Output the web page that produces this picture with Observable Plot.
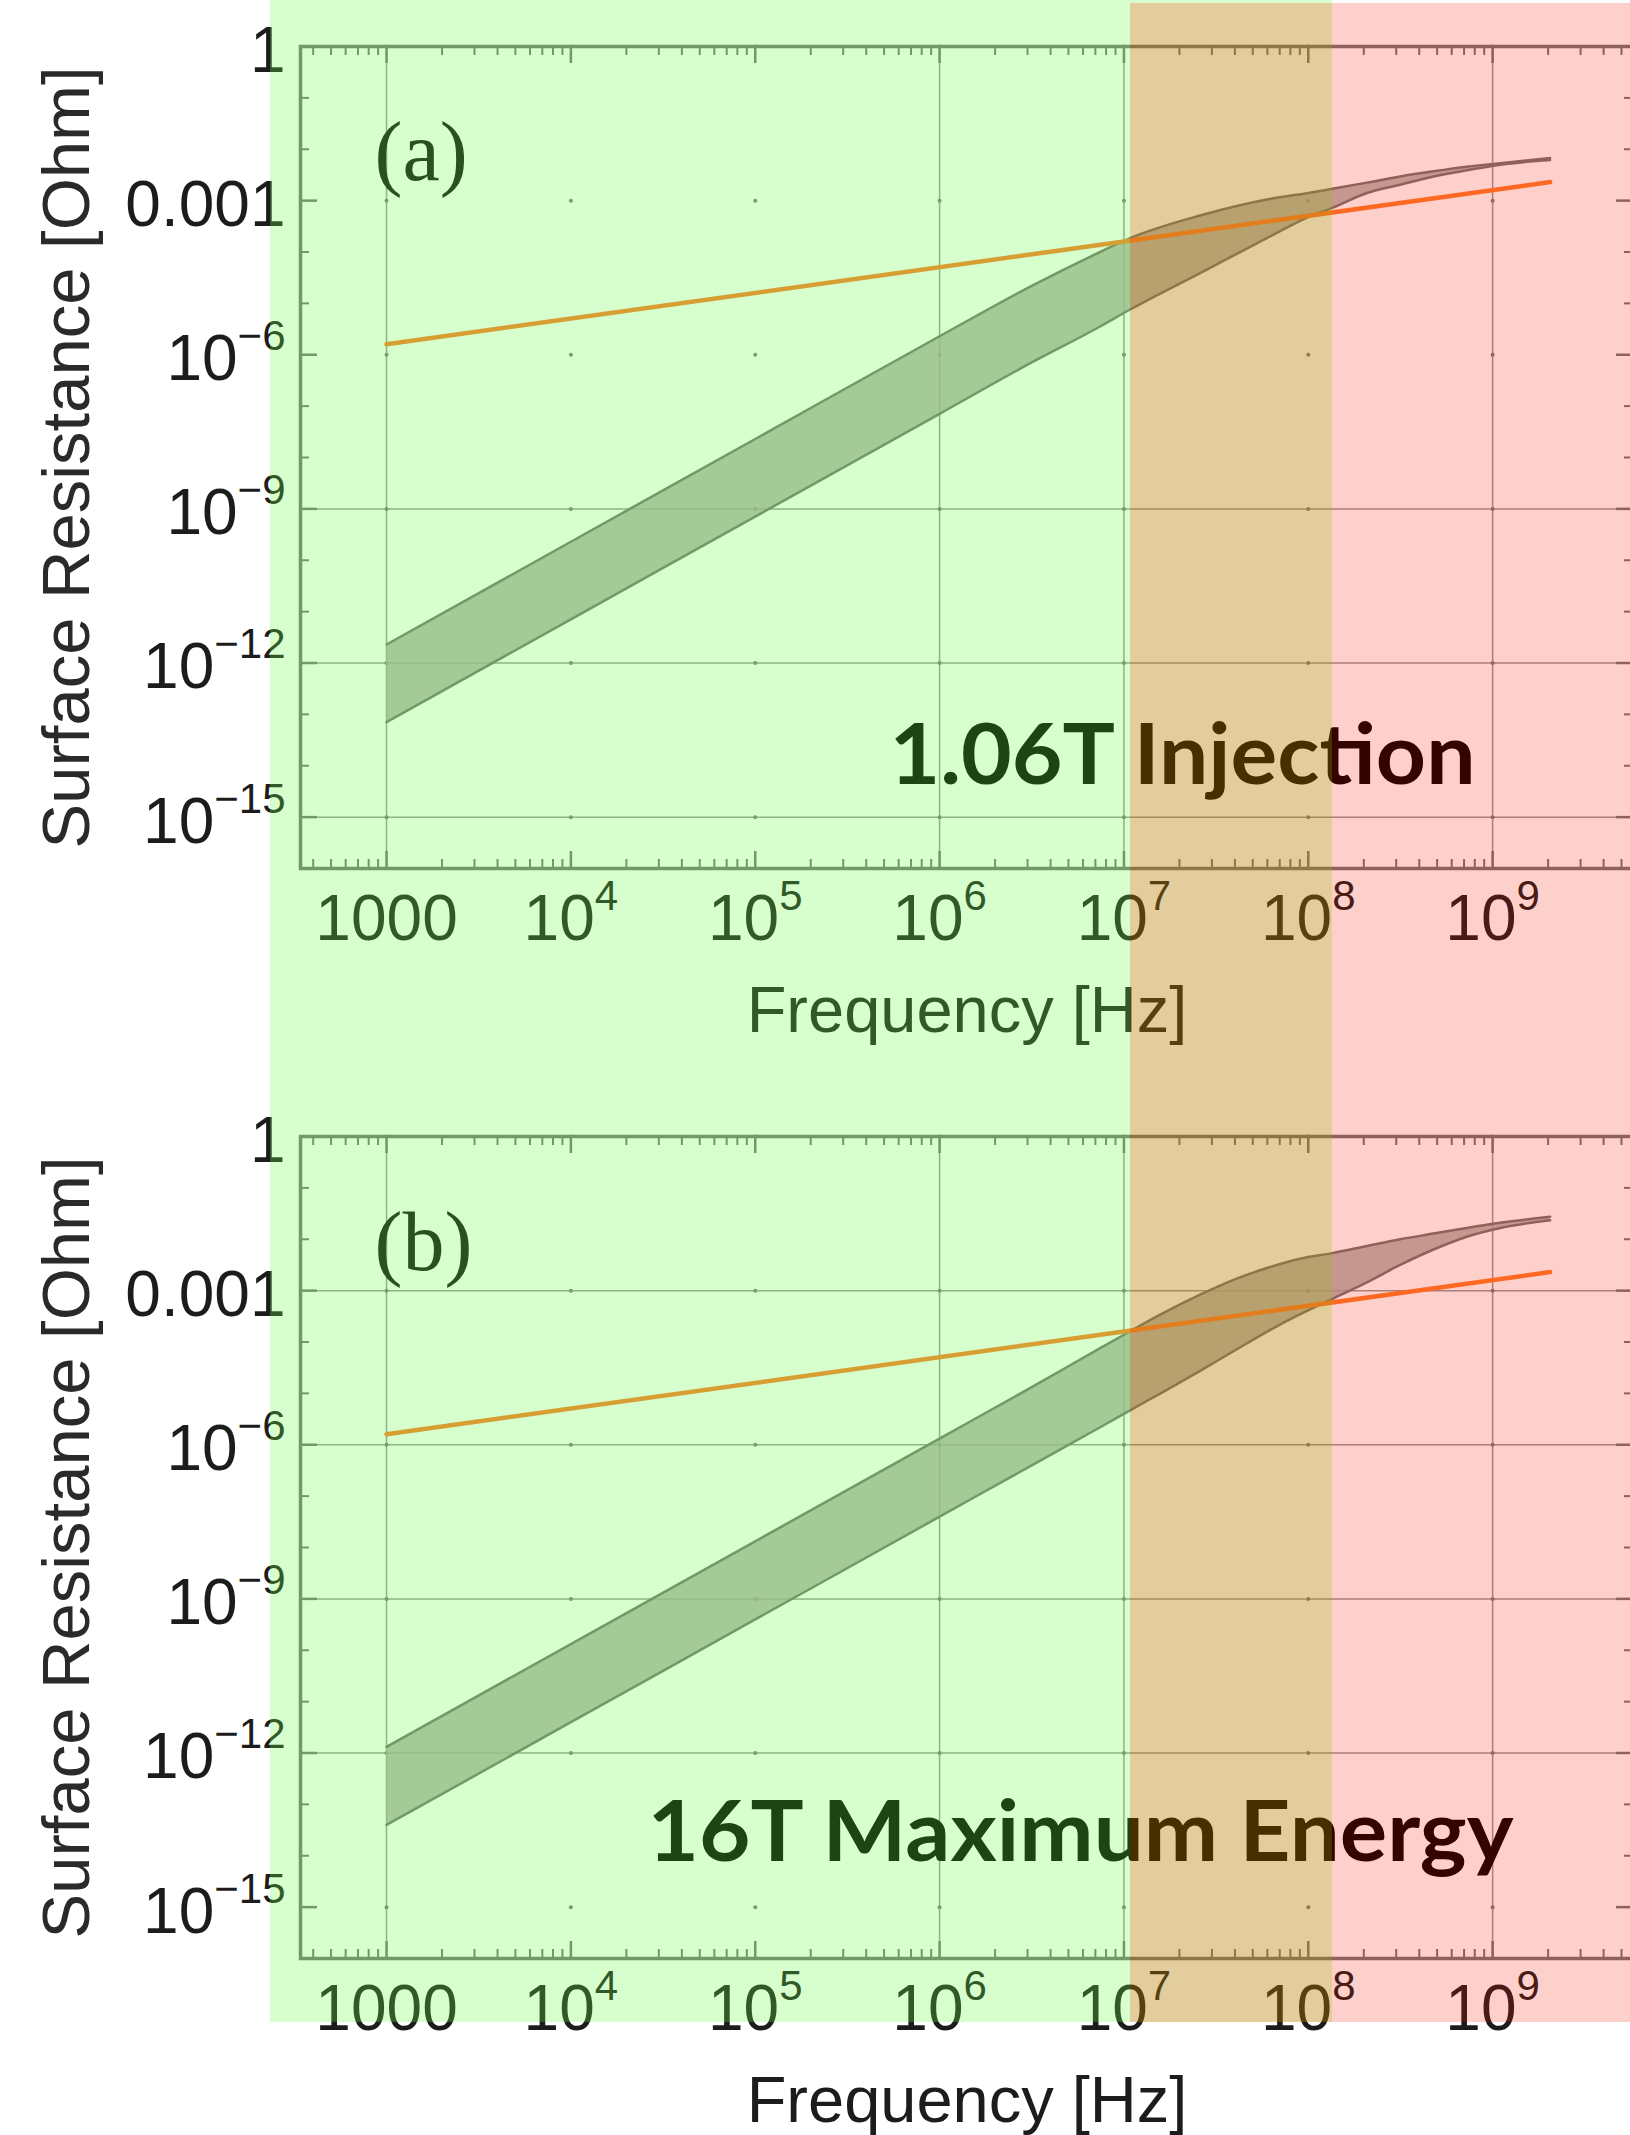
<!DOCTYPE html>
<html>
<head>
<meta charset="utf-8">
<script src="https://cdn.jsdelivr.net/npm/d3@7"></script>
<script src="https://cdn.jsdelivr.net/npm/@observablehq/plot@0.6"></script>
<style>
  html, body { margin: 0; padding: 0; background: #fff; overflow: hidden; }
  #wrap { position: relative; width: 1630px; height: 2135px; overflow: hidden; background: #fff; }
  .panel { position: absolute; left: 0; }
  .ov { position: absolute; pointer-events: none; }
</style>
</head>
<body>
<div id="wrap"></div>
<script>
// ---------------- data ----------------
// Normal-conductor surface resistance (orange line), same in both panels
const normalF = [1e3, 1e7, 2.05e9];
const normalR = [1.6e-6, 1.6e-4, 2.3e-3];

// Panel (a): 1.06 T injection band
const bandA_f  = [1e3, 1e4, 1e5, 1e6, 3.16e6, 7.43e6, 1.08e7, 2.59e7, 5.96e7, 1.0e8, 1.35e8, 2.08e8, 3.15e8, 4.78e8, 7.24e8, 1.10e9, 2.05e9];
const bandA_hi = [2.29e-12, 2.29e-10, 2.29e-8, 2.29e-6, 2.19e-5, 1.0e-4, 1.86e-4, 5.13e-4, 1.05e-3, 1.41e-3, 1.70e-3, 2.24e-3, 2.95e-3, 3.72e-3, 4.57e-3, 5.37e-3, 6.76e-3];
const bandA_lo = [7.08e-14, 7.08e-12, 7.08e-10, 7.08e-8, 7.08e-7, 3.55e-6, 7.59e-6, 3.89e-5, 1.86e-4, 4.79e-4, 7.24e-4, 1.41e-3, 2.04e-3, 2.95e-3, 3.89e-3, 5.01e-3, 6.17e-3];

// Panel (b): 16 T maximum energy band
const bandB_f  = [1e3, 1e4, 1e5, 1e6, 3.16e6, 7.43e6, 1.08e7, 1.71e7, 2.59e7, 3.93e7, 5.96e7, 9.04e7, 1.35e8, 2.08e8, 3.15e8, 4.78e8, 7.24e8, 1.10e9, 2.05e9];
const bandB_hi = [1.32e-12, 1.32e-10, 1.32e-8, 1.32e-6, 1.32e-5, 7.59e-5, 1.62e-4, 3.98e-4, 8.32e-4, 1.62e-3, 2.75e-3, 4.17e-3, 5.37e-3, 7.41e-3, 1.0e-2, 1.29e-2, 1.66e-2, 2.09e-2, 2.75e-2];
const bandB_lo = [3.98e-14, 3.98e-12, 3.98e-10, 3.98e-8, 3.98e-7, 2.19e-6, 4.68e-6, 1.17e-5, 2.75e-5, 6.61e-5, 1.58e-4, 3.47e-4, 6.92e-4, 1.45e-3, 3.16e-3, 6.31e-3, 1.12e-2, 1.66e-2, 2.34e-2];

// Axis ticks and labels
const xTickValues = [1e3, 1e4, 1e5, 1e6, 1e7, 1e8, 1e9];
const xTickLabels = ["1000", "10^4", "10^5", "10^6", "10^7", "10^8", "10^9"];
const yTickValues = [1, 1e-3, 1e-6, 1e-9, 1e-12, 1e-15];
const yTickLabels = ["1", "0.001", "10^\u22126", "10^\u22129", "10^\u221212", "10^\u221215"];

// Grid lines that show as solid lines in each panel
const gridXa = [1e3, 1e6, 1e7, 1e9];
const gridYa = [1e-9, 1e-12, 1e-15];
const gridXb = [1e3, 1e6, 1e7, 1e9];
const gridYb = [1e-3, 1e-6, 1e-9, 1e-12];

// Frequency regimes shaded on top (Hz)
const regimeEdges = [234, 1.08e7, 1.35e8];

const xTitle = "Frequency [Hz]";
const yTitle = "Surface Resistance [Ohm]";
const tags = ["(a)", "(b)"];
const notes = ["1.06T Injection", "16T Maximum Energy"];

// ---------------- layout ----------------
const W = 1640, H = 1090, ML = 300, MR = 7, MT = 46, MB = 222;
const FH = H - MT - MB, FW = W - ML - MR;
const xDomain = [341.4, 5.81e9];
const yDomain = [1e-16, 1];
const AX = "#747474";

const xMinor = [];
for (let k = 2; k <= 9; k++) for (let m = 2; m <= 9; m++) {
  const v = m * Math.pow(10, k);
  if (v > xDomain[0] && v < xDomain[1]) xMinor.push(v);
}
const yMinor = [];
for (let k = 1; k < 16; k++) if (k % 3 !== 0) yMinor.push(Math.pow(10, -k));

const table = (f, lo, hi) => f.map((v, i) => ({f: v, lo: lo[i], hi: hi[i]}));
const normal = normalF.map((v, i) => ({f: v, R: normalR[i]}));
const fmtX = d => xTickLabels[xTickValues.indexOf(d)];
const fmtY = d => yTickLabels[yTickValues.indexOf(d)];

function panel(band, gridX, gridY, tag, note, noteDx, noteDy, noteLen) {
  const p = Plot.plot({
    width: W, height: H,
    marginLeft: ML, marginRight: MR, marginTop: MT, marginBottom: MB,
    style: {maxWidth: "none", background: "transparent", fontFamily: "'Liberation Sans', Arial, sans-serif", overflow: "visible"},
    x: {type: "log", domain: xDomain, label: null},
    y: {type: "log", domain: yDomain, label: null},
    marks: [
      Plot.ruleX(gridX, {stroke: "#9a9a9a", strokeWidth: 1.5}),
      Plot.ruleY(gridY, {stroke: "#9a9a9a", strokeWidth: 1.5}),
      Plot.dot(d3.cross(xTickValues, yTickValues), {x: d => d[0], y: d => d[1], r: 2, fill: "#7a7a7a", stroke: "none"}),
      Plot.areaY(band, {x: "f", y1: "lo", y2: "hi", fill: "#a9a6a1", fillOpacity: 0.8, curve: "monotone-x"}),
      Plot.line(band, {x: "f", y: "lo", stroke: "#747474", strokeWidth: 2.5, curve: "monotone-x"}),
      Plot.line(band, {x: "f", y: "hi", stroke: "#747474", strokeWidth: 2.5, curve: "monotone-x"}),
      Plot.line(normal, {x: "f", y: "R", stroke: "#ff7d2d", strokeWidth: 4.5}),
      Plot.frame({stroke: AX, strokeWidth: 3.5}),
      Plot.tickX(xTickValues, {x: d => d, insetTop: FH - 17, stroke: AX, strokeWidth: 2.5}),
      Plot.tickX(xTickValues, {x: d => d, insetBottom: FH - 17, stroke: AX, strokeWidth: 2.5}),
      Plot.tickX(xMinor, {x: d => d, insetTop: FH - 9, stroke: AX, strokeWidth: 2}),
      Plot.tickX(xMinor, {x: d => d, insetBottom: FH - 9, stroke: AX, strokeWidth: 2}),
      Plot.tickY(yTickValues, {y: d => d, insetRight: FW - 17, stroke: AX, strokeWidth: 2.5}),
      Plot.tickY(yTickValues, {y: d => d, insetLeft: FW - 17, stroke: AX, strokeWidth: 2.5}),
      Plot.tickY(yMinor, {y: d => d, insetRight: FW - 9, stroke: AX, strokeWidth: 2}),
      Plot.tickY(yMinor, {y: d => d, insetLeft: FW - 9, stroke: AX, strokeWidth: 2}),
      Plot.axisX({ticks: xTickValues, tickFormat: fmtX, tickSize: 0, tickPadding: 26, fontSize: 64, fill: "#1c1c1c", label: null}),
      Plot.axisY({ticks: yTickValues, tickFormat: fmtY, tickSize: 0, tickPadding: 15, dy: 5, fontSize: 64, fill: "#1c1c1c", label: null}),
      Plot.text([yTitle], {text: d => d, frameAnchor: "left", dx: -212, rotate: -90, lineAnchor: "bottom", textAnchor: "middle", fontSize: 67, fill: "#2a2a2a"}),
      Plot.text([xTitle], {text: d => d, frameAnchor: "bottom", dy: 163, lineAnchor: "bottom", textAnchor: "middle", fontSize: 65, fill: "#1c1c1c"}),
      Plot.text([tag], {text: d => d, frameAnchor: "top-left", dx: 74, dy: 133, lineAnchor: "bottom", textAnchor: "start", fontFamily: "'Liberation Serif', serif", fontSize: 84, fill: "#111"}),
      Plot.text([note], {text: d => d, frameAnchor: "bottom-left", dx: noteDx, dy: noteDy, lineAnchor: "bottom", textAnchor: "start", fontFamily: "Lato, sans-serif", fontWeight: 700, fontSize: 85, fill: "#000"})
    ]
  });
  p.querySelectorAll("text").forEach(t => {
    const s = t.textContent;
    if (s.includes("^")) {
      // superscripts for tick labels like 10^6
      const [b, e] = s.split("^");
      t.textContent = b;
      const ts = document.createElementNS("http://www.w3.org/2000/svg", "tspan");
      ts.setAttribute("font-size", "42");
      ts.setAttribute("dy", "-30");
      ts.textContent = e;
      t.appendChild(ts);
    } else if (s === note) {
      t.setAttribute("textLength", noteLen);
      t.setAttribute("lengthAdjust", "spacingAndGlyphs");
    }
  });
  return p;
}

const wrap = document.getElementById("wrap");
const pa = panel(table(bandA_f, bandA_lo, bandA_hi), gridXa, gridYa, tags[0], notes[0], 589, -85, 586);
const pb = panel(table(bandB_f, bandB_lo, bandB_hi), gridXb, gridYb, tags[1], notes[1], 347, -98, 866);
pa.classList.add("panel"); pa.style.top = "0px";
pb.classList.add("panel"); pb.style.top = H + "px";
wrap.appendChild(pa);
wrap.appendChild(pb);

// regime overlays (positioned through the x scale)
const sx = pa.scale("x");
const e0 = sx.apply(regimeEdges[0]), e1 = sx.apply(regimeEdges[1]), e2 = sx.apply(regimeEdges[2]);
const OV_BOTTOM = 2022, OV_TOP2 = 3;
function ov(x0, x1, y0, y1, color) {
  const d = document.createElement("div");
  d.className = "ov";
  d.style.left = x0 + "px"; d.style.width = (x1 - x0) + "px";
  d.style.top = y0 + "px"; d.style.height = (y1 - y0) + "px";
  d.style.background = color;
  wrap.appendChild(d);
}
ov(e0, e1, 0, OV_BOTTOM, "rgba(107,250,71,0.27)");
ov(e1, e2, 0, OV_TOP2, "rgba(107,250,71,0.27)");
ov(e1, e2, OV_TOP2, OV_BOTTOM, "rgba(182,125,0,0.385)");
ov(e2, 1630, OV_TOP2, OV_BOTTOM, "rgba(244,24,0,0.205)");
</script>
</body>
</html>
